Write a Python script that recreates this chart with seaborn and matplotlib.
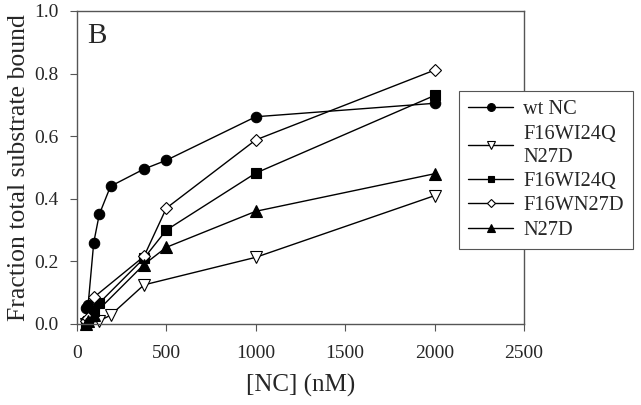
import matplotlib
matplotlib.use("Agg")
import matplotlib.pyplot as plt
import seaborn as sns
import pandas as pd

# Data
wt_x = [50, 62.5, 94, 125, 188, 375, 500, 1000, 2000]
wt_y = [0.05, 0.06, 0.26, 0.35, 0.44, 0.495, 0.523, 0.662, 0.705]

tri_n27d_x = [50, 62.5, 125, 188, 375, 1000, 2000]
tri_n27d_y = [0.0, 0.003, 0.01, 0.028, 0.125, 0.213, 0.41]

wi24q_x = [50, 62.5, 94, 125, 375, 500, 1000, 2000]
wi24q_y = [0.0, 0.01, 0.04, 0.067, 0.21, 0.30, 0.482, 0.73]

wn27d_x = [50, 62.5, 94, 375, 500, 1000, 2000]
wn27d_y = [0.01, 0.02, 0.085, 0.216, 0.37, 0.588, 0.811]

n27d_x = [50, 62.5, 94, 375, 500, 1000, 2000]
n27d_y = [0.0, 0.01, 0.03, 0.19, 0.245, 0.36, 0.48]

series = [
    ("wt NC", wt_x, wt_y, "o", "black", 7.5),
    ("F16WI24Q\nN27D", tri_n27d_x, tri_n27d_y, "v", "white", 8),
    ("F16WI24Q", wi24q_x, wi24q_y, "s", "black", 6.5),
    ("F16WN27D", wn27d_x, wn27d_y, "D", "white", 6),
    ("N27D", n27d_x, n27d_y, "^", "black", 8),
]

sns.set_style("ticks")
plt.rcParams['font.family'] = ['Liberation Serif', 'DejaVu Serif']

fig = plt.figure(figsize=(6.41, 4.05), dpi=100)
ax = fig.add_axes([0.12, 0.2, 0.6975, 0.773])

for name, xs, ys, mk, fc, ms in series:
    df = pd.DataFrame({"conc": xs, "frac": ys})
    sns.lineplot(data=df, x="conc", y="frac", ax=ax, color="black", lw=1,
                 marker=mk, markersize=ms, markerfacecolor=fc,
                 markeredgecolor="black", markeredgewidth=0.8,
                 label=name, clip_on=False)

ax.set_xlim(0, 2500)
ax.set_ylim(0, 1.0)
ax.set_xticks([0, 500, 1000, 1500, 2000, 2500])
ax.set_yticks([0, 0.2, 0.4, 0.6, 0.8, 1.0])
ax.set_yticklabels(["0.0", "0.2", "0.4", "0.6", "0.8", "1.0"])
ax.tick_params(direction="out", length=5, width=0.8, labelsize=14, color="#555555")
ax.tick_params(axis="x", pad=10)
ax.tick_params(axis="y", pad=8)
for sp in ax.spines.values():
    sp.set_color("#555555")
    sp.set_linewidth(1)

ax.set_xlabel("[NC] (nM)", fontsize=18, labelpad=9)
ax.set_ylabel("Fraction total substrate bound", fontsize=18.5)
ax.yaxis.set_label_coords(-0.106, 0.5)
ax.text(0.022, 0.962, "B", transform=ax.transAxes, fontsize=21, va="top", ha="left")

leg = ax.legend(loc="center left", bbox_to_anchor=(459 / 641, 1 - 170 / 405),
                bbox_transform=fig.transFigure, fontsize=14.7, frameon=True,
                fancybox=False, edgecolor="#555555", handlelength=2.2,
                labelspacing=0.25, borderpad=0.45, handletextpad=0.5,
                borderaxespad=0, markerscale=0.75)
leg.get_frame().set_linewidth(0.8)
leg.get_frame().set_alpha(1)
for t in leg.get_texts():
    t.set_linespacing(1.3)

fig.savefig("out.png", dpi=100)
